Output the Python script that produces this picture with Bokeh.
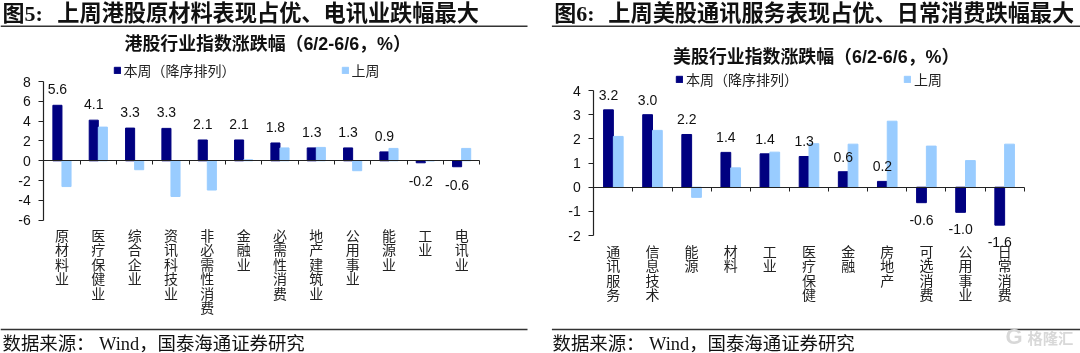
from bokeh.embed import file_html
from bokeh.layouts import row
from bokeh.models import ColumnDataSource, FixedTicker, Legend, LegendItem, LinearAxis, Range1d
from bokeh.plotting import figure
from bokeh.resources import INLINE
from bokeh.core.properties import value

hk_categories = ["原材料业", "医疗保健业", "综合企业", "资讯科技业", "非必需性消费", "金融业",
                 "必需性消费", "地产建筑业", "公用事业", "能源业", "工业", "电讯业"]
hk_this_week = [5.6, 4.1, 3.3, 3.27, 2.1, 2.1, 1.8, 1.3, 1.3, 0.9, -0.2, -0.6]
hk_last_week = [-2.6, 3.4, -0.9, -3.6, -2.95, 0.1, 1.3, 1.35, -1.0, 1.25, 0.0, 1.25]
hk_y_ticks = [-6, -4, -2, 0, 2, 4, 6, 8]

us_categories = ["通讯服务", "信息技术", "能源", "材料", "工业", "医疗保健", "金融", "房地产",
                 "可选消费", "公用事业", "日常消费"]
us_this_week = [3.2, 3.0, 2.18, 1.44, 1.38, 1.27, 0.64, 0.24, -0.64, -1.04, -1.57]
us_last_week = [2.1, 2.35, -0.42, 0.8, 1.45, 1.8, 1.78, 2.73, 1.7, 1.1, 1.78]
us_y_ticks = [-2, -1, 0, 1, 2, 3, 4]

NAVY = "#000080"
SKY = "#99CCFF"
INK = "#222222"
LATIN_CJK_SANS = "Liberation Sans, Noto Sans CJK SC"
LATIN_CJK_SERIF = "Liberation Serif, Noto Sans CJK SC"


def panel(cats, this_week, last_week, y_ticks, cfg):
    W, H = 540, 353
    ux = (cfg["axis_right"] - cfg["axis_left"]) / len(cats)
    uy = (cfg["zero_py"] - cfg["top_py"]) / y_ticks[-1]
    x_range = Range1d(-cfg["axis_left"] / ux, (W - cfg["axis_left"]) / ux)
    y_range = Range1d((cfg["zero_py"] - H) / uy, cfg["zero_py"] / uy)
    p = figure(width=W, height=H, x_range=x_range, y_range=y_range, x_axis_type=None, y_axis_type=None,
               toolbar_location=None, output_backend="svg", min_border=0, outline_line_color=None)
    p.grid.visible = False

    X = lambda px: (px - cfg["axis_left"]) / ux
    Y = lambda py: (cfg["zero_py"] - py) / uy

    centers = [i + 0.5 for i in range(len(cats))]
    r1 = p.vbar(x=[c - 0.125 for c in centers], top=this_week, bottom=0, width=0.25, color=NAVY)
    r2 = p.vbar(x=[c + 0.125 for c in centers], top=last_week, bottom=0, width=0.25, color=SKY)

    xaxis = LinearAxis(fixed_location=0, ticker=FixedTicker(ticks=list(range(len(cats) + 1))),
                       bounds=(0, len(cats)), major_label_text_color=None, major_label_text_font_size="1px",
                       major_tick_in=0, major_tick_out=4, minor_tick_line_color=None,
                       axis_line_color=INK, major_tick_line_color=INK)
    yaxis = LinearAxis(fixed_location=0, ticker=FixedTicker(ticks=y_ticks),
                       major_label_overrides={t: str(t) for t in y_ticks},
                       bounds=(y_ticks[0], y_ticks[-1]), major_tick_in=0, major_tick_out=5,
                       minor_tick_line_color=None, axis_line_color=INK, major_tick_line_color=INK,
                       axis_line_width=1.2, major_label_standoff=8,
                       major_label_text_font="Liberation Sans", major_label_text_font_size="14px",
                       major_label_text_color="#111111")
    p.add_layout(xaxis, "below")
    p.add_layout(yaxis, "left")

    # data labels
    src = ColumnDataSource(dict(x=[c - 0.125 for c in centers], y=this_week,
                                t=[f"{v:.1f}" for v in this_week],
                                o=[-cfg["lab_up"] if v >= 0 else cfg["lab_dn"] for v in this_week]))
    p.text(x="x", y="y", text="t", y_offset="o", source=src, text_align="center", text_baseline="middle",
           text_font=value("Liberation Sans"), text_font_size="14px", text_color="#111111")

    # vertical category labels
    src2 = ColumnDataSource(dict(x=centers, y=[Y(cfg["cat_top"])] * len(cats), t=["\n".join(c) for c in cats]))
    p.text(x="x", y="y", text="t", source=src2, text_align="center", text_baseline="top",
           text_font=value("Noto Sans CJK SC"), text_font_size="14px", text_color="#222222",
           text_line_height=0.725)

    def txt(px, py, s, font, size, color="#111111", style="normal"):
        p.text(x=[X(px)], y=[Y(py)], text=[s], text_align="left", text_baseline="middle",
               text_font=value(font), text_font_size=size, text_color=color, text_font_style=style)

    # header, title, footer, rules
    txt(cfg["head_x"], 13, cfg["head_no"], LATIN_CJK_SERIF, "22px", style="bold")
    txt(cfg["body_x"], 13, cfg["header"], LATIN_CJK_SERIF, "22.2px", style="bold")
    txt(cfg["title_x"], cfg["title_y"], cfg["title"], LATIN_CJK_SANS, "17.9px", style="bold")
    txt(cfg["foot_x"], 343, "数据来源： Wind，国泰海通证券研究", LATIN_CJK_SERIF, "18.4px")
    p.segment(x0=[X(cfg["rule_l"])] * 2, x1=[X(cfg["rule_r"])] * 2, y0=[Y(25.7), Y(329)], y1=[Y(25.7), Y(329)],
              line_color="#333333", line_width=1.6)
    if "mark" in cfg:
        txt(cfg["mark"], 336, "G", "Liberation Sans", "22px", color="#d8d8d8", style="bold")
        txt(cfg["mark"] + 22, 336, "格隆汇", "Noto Sans CJK SC", "15.3px", color="#d8d8d8", style="bold")

    leg = Legend(items=[LegendItem(label="本周（降序排列）", renderers=[r1]), LegendItem(label="上周", renderers=[r2])],
                 orientation="horizontal", location=(cfg["leg_x"], H - cfg["leg_y"] - 8.5),
                 glyph_width=8, glyph_height=8, label_standoff=3, spacing=105, padding=0, margin=0,
                 border_line_color=None, background_fill_alpha=0, label_height=14,
                 label_text_font="Noto Sans CJK SC", label_text_font_size="14px", label_text_color="#222222")
    p.add_layout(leg, "center")
    return p


left = panel(hk_categories, hk_this_week, hk_last_week, hk_y_ticks,
             dict(axis_left=43.3, axis_right=479.3, top_py=81, zero_py=160.3, lab_up=16, lab_dn=18, cat_top=224,
                  head_x=2, head_no="图5:", body_x=56.8, header="上周港股原材料表现占优、电讯业跌幅最大",
                  title_x=124, title_y=43.5, title="港股行业指数涨跌幅（6/2-6/6，%）",
                  foot_x=2, rule_l=0, rule_r=527, leg_x=112.6, leg_y=71))
right = panel(us_categories, us_this_week, us_last_week, us_y_ticks,
              dict(axis_left=53.3, axis_right=483.7, top_py=90, zero_py=186.7, lab_up=15, lab_dn=17, cat_top=240,
                   head_x=13.8, head_no="图6:", body_x=67.8, header="上周美股通讯服务表现占优、日常消费跌幅最大",
                   title_x=132.6, title_y=56.7, title="美股行业指数涨跌幅（6/2-6/6，%）",
                   foot_x=12, rule_l=11.4, rule_r=540, leg_x=135, leg_y=80, mark=465))

page = row(left, right, spacing=0, styles={"position": "fixed", "left": "0px", "top": "0px"})
open("out.html", "w").write(file_html(page, INLINE))
